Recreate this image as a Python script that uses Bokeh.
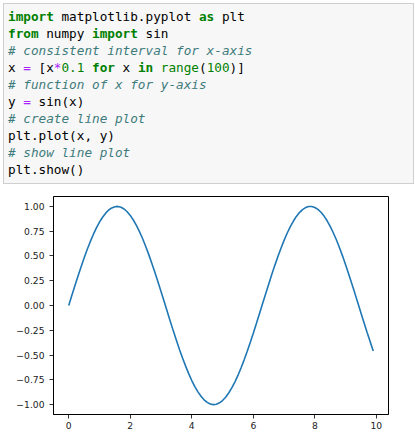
from bokeh.plotting import figure
from bokeh.layouts import column
from bokeh.models import Range1d, FixedTicker, ColumnDataSource, Div
from bokeh.embed import file_html
from bokeh.resources import INLINE
import html

# ---------------- data ----------------
x_vals = [0.0, 0.1, 0.2, 0.3, 0.4, 0.5, 0.6, 0.7, 0.8, 0.9,
          1.0, 1.1, 1.2, 1.3, 1.4, 1.5, 1.6, 1.7, 1.8, 1.9,
          2.0, 2.1, 2.2, 2.3, 2.4, 2.5, 2.6, 2.7, 2.8, 2.9,
          3.0, 3.1, 3.2, 3.3, 3.4, 3.5, 3.6, 3.7, 3.8, 3.9,
          4.0, 4.1, 4.2, 4.3, 4.4, 4.5, 4.6, 4.7, 4.8, 4.9,
          5.0, 5.1, 5.2, 5.3, 5.4, 5.5, 5.6, 5.7, 5.8, 5.9,
          6.0, 6.1, 6.2, 6.3, 6.4, 6.5, 6.6, 6.7, 6.8, 6.9,
          7.0, 7.1, 7.2, 7.3, 7.4, 7.5, 7.6, 7.7, 7.8, 7.9,
          8.0, 8.1, 8.2, 8.3, 8.4, 8.5, 8.6, 8.7, 8.8, 8.9,
          9.0, 9.1, 9.2, 9.3, 9.4, 9.5, 9.6, 9.7, 9.8, 9.9]
y_vals = [0.000, 0.100, 0.199, 0.296, 0.389, 0.479, 0.565, 0.644, 0.717, 0.783,
          0.841, 0.891, 0.932, 0.964, 0.985, 0.997, 1.000, 0.992, 0.974, 0.946,
          0.909, 0.863, 0.808, 0.746, 0.676, 0.598, 0.516, 0.427, 0.335, 0.239,
          0.141, 0.042, -0.058, -0.158, -0.256, -0.351, -0.443, -0.530, -0.612, -0.688,
          -0.757, -0.818, -0.872, -0.916, -0.952, -0.978, -0.994, -1.000, -0.996, -0.982,
          -0.959, -0.926, -0.883, -0.832, -0.773, -0.706, -0.631, -0.551, -0.465, -0.374,
          -0.279, -0.182, -0.083, 0.017, 0.117, 0.215, 0.312, 0.405, 0.494, 0.578,
          0.657, 0.729, 0.794, 0.850, 0.899, 0.938, 0.968, 0.988, 0.999, 0.999,
          0.989, 0.970, 0.941, 0.902, 0.855, 0.799, 0.734, 0.663, 0.585, 0.501,
          0.412, 0.319, 0.223, 0.125, 0.025, -0.075, -0.174, -0.272, -0.367, -0.458]

x_ticks = [0, 2, 4, 6, 8, 10]
x_tick_labels = ["0", "2", "4", "6", "8", "10"]
y_ticks = [-1.0, -0.75, -0.5, -0.25, 0.0, 0.25, 0.5, 0.75, 1.0]
y_tick_labels = ["\u22121.00", "\u22120.75", "\u22120.50", "\u22120.25", "0.00",
                 "0.25", "0.50", "0.75", "1.00"]

# code cell tokens: (text, kind)
code_lines = [
    [("import", "kw"), (" matplotlib.pyplot ", "tx"), ("as", "kw"), (" plt", "tx")],
    [("from", "kw"), (" numpy ", "tx"), ("import", "kw"), (" sin", "tx")],
    [("# consistent interval for x-axis", "cm")],
    [("x ", "tx"), ("=", "op"), (" [x", "tx"), ("*", "op"), ("0.1", "num"), (" ", "tx"),
     ("for", "kw"), (" x ", "tx"), ("in", "kw"), (" ", "tx"), ("range", "bi"), ("(", "tx"),
     ("100", "num"), (")]", "tx")],
    [("# function of x for y-axis", "cm")],
    [("y ", "tx"), ("=", "op"), (" sin(x)", "tx")],
    [("# create line plot", "cm")],
    [("plt.plot(x, y)", "tx")],
    [("# show line plot", "cm")],
    [("plt.show()", "tx")],
]

styles = {
    "kw": "color:#008000;font-weight:bold;",
    "cm": "color:#3D7B7B;font-style:italic;",
    "op": "color:#AA22FF;",
    "num": "color:#008000;",
    "bi": "color:#008000;",
    "tx": "color:#000000;",
}

# ---------------- code cell (HTML) ----------------
W = 415
code_h = 185
rows = []
for toks in code_lines:
    rows.append("".join('<span style="%s">%s</span>' % (styles[k], html.escape(t))
                        for t, k in toks))
code_html = (
    '<div style="margin:3px 0 0 3px;width:411px;height:181px;'
    'box-sizing:border-box;background:#f7f7f7;border:1px solid #cfcfcf;'
    'padding:4px 0 0 4px;overflow:hidden;">'
    '<pre style="margin:0;padding:0;font-family:\'DejaVu Sans Mono\',monospace;'
    'font-size:12.7px;line-height:17px;white-space:pre;">'
    + "\n".join(rows) +
    '</pre></div>'
)
code = Div(text=code_html, width=W, height=code_h, margin=0)

# ---------------- chart figure ----------------
chart_h = 260
p = figure(width=W, height=chart_h, x_range=Range1d(-0.495, 10.395),
           y_range=Range1d(-1.09999, 1.09999),
           output_backend="svg", toolbar_location=None,
           min_border_left=53, min_border_right=27, min_border_top=11, min_border_bottom=31,
           margin=0)
p.grid.visible = False
p.outline_line_color = "black"
p.outline_line_width = 1
p.outline_line_alpha = 1
p.background_fill_color = "white"
p.border_fill_color = "white"

src = ColumnDataSource(dict(x=x_vals, y=y_vals))
p.line("x", "y", source=src, line_color="#1f77b4", line_width=1.6)

p.xaxis.ticker = FixedTicker(ticks=x_ticks)
p.xaxis.major_label_overrides = {t: l for t, l in zip(x_ticks, x_tick_labels)}
p.yaxis.ticker = FixedTicker(ticks=y_ticks)
p.yaxis.major_label_overrides = {t: l for t, l in zip(y_ticks, y_tick_labels)}
for ax in (p.xaxis, p.yaxis):
    ax.axis_line_color = "black"
    ax.axis_line_width = 0.8
    ax.major_tick_in = 0
    ax.major_tick_out = 4
    ax.major_tick_line_color = "black"
    ax.major_tick_line_width = 0.8
    ax.minor_tick_line_color = None
    ax.major_label_text_font = "DejaVu Sans"
    ax.major_label_text_font_size = "9.2px"
    ax.major_label_text_color = "#222222"
p.xaxis.major_label_standoff = 3
p.yaxis.major_label_standoff = 5

layout = column(code, p, margin=0, spacing=0)

open("out.html", "w").write(file_html(layout, INLINE))
